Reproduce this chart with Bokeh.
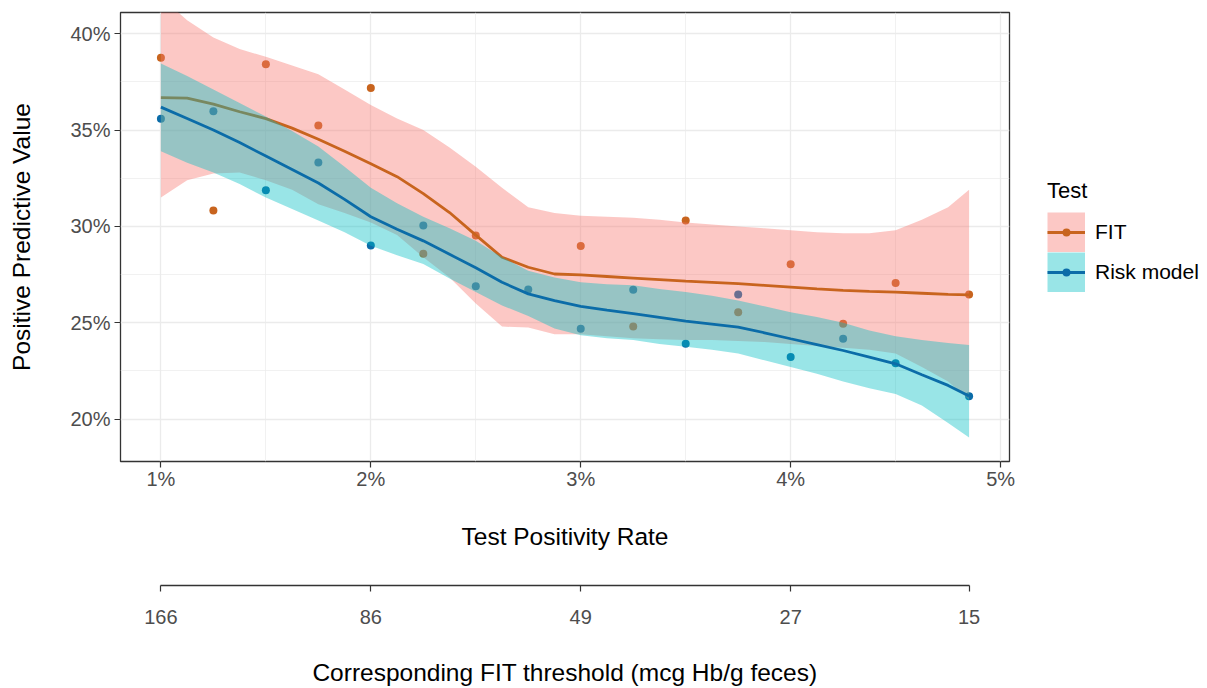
from bokeh.plotting import figure
from bokeh.layouts import row
from bokeh.models import (Range1d, LinearAxis, FixedTicker, Legend, LegendItem,
                          PrintfTickFormatter)
from bokeh.embed import file_html
from bokeh.resources import INLINE

# ---------------- data (percent units) ----------------
fit_tpr = [1.0, 1.25, 1.5, 1.75, 2.0, 2.25, 2.5, 3.0, 3.25, 3.5, 3.75, 4.0, 4.25, 4.5, 4.85]
fit_ppv = [38.75, 30.83, 38.41, 35.24, 37.18, 28.58, 29.53, 28.98, 24.81, 30.31, 25.55,
           28.03, 24.95, 27.06, 26.47]

risk_tpr = [1.0, 1.25, 1.5, 1.75, 2.0, 2.25, 2.5, 2.75, 3.0, 3.25, 3.5, 3.75, 4.0, 4.25, 4.5, 4.85]
risk_ppv = [35.59, 35.97, 31.87, 33.31, 29.01, 30.05, 26.89, 26.73, 24.69, 26.71, 23.91,
            26.46, 23.22, 24.17, 22.90, 21.18]

smooth_tpr = [1.0, 1.125, 1.25, 1.375, 1.5, 1.625, 1.75, 1.875, 2.0, 2.125, 2.25, 2.375,
              2.5, 2.625, 2.75, 2.875, 3.0, 3.125, 3.25, 3.375, 3.5, 3.625, 3.75, 3.875,
              4.0, 4.125, 4.25, 4.375, 4.5, 4.625, 4.75, 4.85]

fit_smooth = [36.68, 36.66, 36.35, 35.95, 35.59, 35.10, 34.52, 33.90, 33.25, 32.58, 31.70,
              30.72, 29.55, 28.40, 27.88, 27.53, 27.48, 27.40, 27.32, 27.24, 27.16, 27.10,
              27.03, 26.94, 26.85, 26.76, 26.68, 26.63, 26.59, 26.53, 26.47, 26.45]
fit_upper = [41.9, 40.7, 39.8, 39.2, 38.8, 38.35, 37.9, 37.1, 36.3, 35.6, 35.0, 34.1, 33.1,
             32.0, 31.0, 30.7, 30.55, 30.5, 30.45, 30.35, 30.2, 30.1, 30.0, 29.9, 29.8,
             29.7, 29.65, 29.65, 29.8, 30.35, 31.0, 31.9]
fit_lower = [31.5, 32.4, 32.75, 32.8, 32.4, 31.9, 31.15, 30.7, 30.2, 29.55, 28.4, 27.35,
             26.0, 24.8, 24.75, 24.4, 24.4, 24.3, 24.2, 24.15, 24.1, 24.1, 24.05, 24.0,
             23.9, 23.8, 23.7, 23.6, 23.4, 22.7, 21.95, 21.0]

risk_smooth = [36.19, 35.6, 35.0, 34.35, 33.65, 32.95, 32.25, 31.4, 30.5, 29.85, 29.25,
               28.55, 27.85, 27.1, 26.5, 26.15, 25.85, 25.65, 25.47, 25.28, 25.09, 24.93,
               24.77, 24.48, 24.17, 23.87, 23.56, 23.22, 22.87, 22.3, 21.75, 21.2]
risk_upper = [38.45, 37.8, 37.1, 36.4, 35.7, 34.95, 34.15, 33.1, 32.0, 31.2, 30.5, 29.9,
              29.25, 28.4, 27.7, 27.35, 27.1, 27.0, 26.95, 26.75, 26.6, 26.4, 26.15, 25.85,
              25.55, 25.3, 25.0, 24.6, 24.3, 24.1, 23.95, 23.85]
risk_lower = [33.9, 33.3, 32.8, 32.2, 31.5, 30.9, 30.3, 29.7, 29.0, 28.5, 28.05, 27.3,
              26.6, 25.9, 25.35, 24.7, 24.35, 24.2, 24.1, 23.9, 23.75, 23.6, 23.4, 23.05,
              22.7, 22.35, 21.95, 21.6, 21.3, 20.7, 19.8, 19.05]

x_ticks = [1, 2, 3, 4, 5]
x_minor = [1.5, 2.5, 3.5, 4.5]
y_ticks = [20, 25, 30, 35, 40]
y_minor = [22.5, 27.5, 32.5, 37.5]
threshold_tpr = [1, 2, 3, 4, 4.85]
threshold_labels = ["166", "86", "49", "27", "15"]
groups = ["FIT", "Risk model"]

# ---------------- styles ----------------
FONT = "Liberation Sans"
FIT_COL = "#C8641E"
RISK_COL = "#0B6CA8"
FIT_FILL = "#F8766D"
RISK_FILL = "#00BFC4"
TICK_COL = "#4D4D4D"
TITLE_SIZE = "24.5px"

p = figure(width=1028, height=688, output_backend="svg", toolbar_location=None,
           x_range=Range1d(0.8075, 5.0425), y_range=Range1d(17.8, 41.1),
           min_border_left=120, min_border_right=19, min_border_top=12,
           min_border_bottom=0)
p.outline_line_color = "#333333"
p.outline_line_width = 1.3
p.background_fill_color = "white"
p.border_fill_color = "white"

for g in (p.xgrid[0], p.ygrid[0]):
    g.grid_line_color = "#EBEBEB"
    g.grid_line_width = 1.3
    g.minor_grid_line_color = "#EBEBEB"
    g.minor_grid_line_width = 0.7

def style_axis(ax, label, label_standoff, tick_standoff):
    ax.axis_label = label
    ax.axis_label_text_font = FONT
    ax.axis_label_text_font_size = TITLE_SIZE
    ax.axis_label_text_font_style = "normal"
    ax.axis_label_text_color = "black"
    ax.axis_label_standoff = label_standoff
    ax.major_label_text_font = FONT
    ax.major_label_text_font_size = "20px"
    ax.major_label_text_color = TICK_COL
    ax.major_label_standoff = tick_standoff
    ax.major_tick_in = 0
    ax.major_tick_out = 6
    ax.major_tick_line_color = "#333333"
    ax.major_tick_line_width = 1.2
    ax.minor_tick_line_color = None

xa = p.xaxis[0]
xa.ticker = FixedTicker(ticks=x_ticks, minor_ticks=x_minor)
xa.formatter = PrintfTickFormatter(format="%d%%")
xa.axis_line_color = None
style_axis(xa, "Test Positivity Rate", 30, 0)

ya = p.yaxis[0]
ya.ticker = FixedTicker(ticks=y_ticks, minor_ticks=y_minor)
ya.formatter = PrintfTickFormatter(format="%d%%")
ya.axis_line_color = None
style_axis(ya, "Positive Predictive Value", 32, 4)

spacer = LinearAxis(ticker=FixedTicker(ticks=[]), axis_label=" ",
                    axis_line_color=None, major_tick_line_color=None,
                    minor_tick_line_color=None, major_tick_out=0, major_tick_in=0,
                    major_label_standoff=0, axis_label_standoff=19,
                    axis_label_text_font_size="10px")
p.add_layout(spacer, "below")

ax2 = LinearAxis(ticker=FixedTicker(ticks=threshold_tpr),
                 major_label_overrides=dict(zip(threshold_tpr, threshold_labels)),
                 bounds=(threshold_tpr[0], threshold_tpr[-1]))
style_axis(ax2, "Corresponding FIT threshold (mcg Hb/g feces)", 32, 18)
ax2.axis_line_color = "#333333"
ax2.axis_line_width = 1.6
p.add_layout(ax2, "below")

# ---------------- glyphs (ggplot order: points, then smooth per group) ----------------
p.scatter(fit_tpr, fit_ppv, size=8, fill_color=FIT_COL, line_color=None)
p.scatter(risk_tpr, risk_ppv, size=8, fill_color=RISK_COL, line_color=None)

p.varea(x=smooth_tpr, y1=fit_lower, y2=fit_upper, fill_color=FIT_FILL, fill_alpha=0.4)
p.line(smooth_tpr, fit_smooth, line_color=FIT_COL, line_width=2.8)
p.varea(x=smooth_tpr, y1=risk_lower, y2=risk_upper, fill_color=RISK_FILL, fill_alpha=0.4)
p.line(smooth_tpr, risk_smooth, line_color=RISK_COL, line_width=2.8)

# ---------------- legend panel (separate figure at the right) ----------------
q = figure(width=179, height=688, output_backend="svg", toolbar_location=None,
           x_axis_location=None, y_axis_location=None,
           x_range=Range1d(-2, -1), y_range=Range1d(-2, -1),
           min_border=0)
q.grid.visible = False
q.outline_line_color = None
q.background_fill_color = "white"
q.border_fill_color = "white"

# key renderers: same data as the plot, outside this panel's view, so only keys show
key_fit = q.line(smooth_tpr, fit_smooth, line_color=FIT_FILL, line_alpha=0.4, line_width=40)
key_risk = q.line(smooth_tpr, risk_smooth, line_color=RISK_FILL, line_alpha=0.4, line_width=40)
kl_fit = q.line(smooth_tpr, fit_smooth, line_color=FIT_COL, line_width=2.8)
kl_risk = q.line(smooth_tpr, risk_smooth, line_color=RISK_COL, line_width=2.8)
kd_fit = q.scatter(fit_tpr, fit_ppv, fill_color=FIT_COL, line_color=None)
kd_risk = q.scatter(risk_tpr, risk_ppv, fill_color=RISK_COL, line_color=None)

common = dict(padding=0, margin=0, border_line_color=None, background_fill_alpha=0,
              glyph_height=40, spacing=0, label_text_font=FONT,
              label_text_font_size="21px", label_text_color="black")

LEG_Y = 169
leg_a = Legend(items=[LegendItem(label=groups[0], renderers=[key_fit, kl_fit]),
                      LegendItem(label=groups[1], renderers=[key_risk, kl_risk])],
               title="Test", location=(19, LEG_Y), glyph_width=38, label_standoff=10,
               title_standoff=8, title_text_font=FONT, title_text_font_size="22px",
               title_text_font_style="normal", title_text_color="black", **common)
leg_b = Legend(items=[LegendItem(label=" ", renderers=[kd_fit]),
                      LegendItem(label=" ", renderers=[kd_risk])],
               location=(28, LEG_Y), glyph_width=20, label_standoff=0, **common)
q.add_layout(leg_a, "center")
q.add_layout(leg_b, "center")

open("out.html", "w").write(file_html(row(p, q), INLINE))
